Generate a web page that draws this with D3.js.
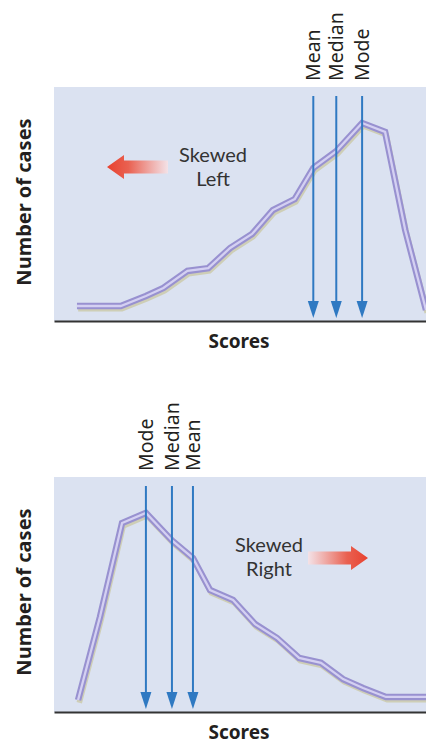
<!DOCTYPE html>
<html>
<head>
<meta charset="utf-8">
<script src="https://cdn.jsdelivr.net/npm/d3@7"></script>
<style>
  html, body { margin: 0; padding: 0; background: #ffffff; }
  svg { display: block; }
</style>
</head>
<body>
<svg id="chart" width="426" height="744"></svg>
<script>
// ---- Data (scores on a 0-17 scale, counts on a 0-100 scale) ----
const leftScores  = [1.05, 3.05, 4.2, 5.0, 6.1, 7.05, 8.05, 9.05, 10.0, 11.0, 11.85, 12.9, 14.08, 15.13, 16.05, 17.0];
const leftCounts  = [6.4, 6.4, 10.7, 14.1, 21.4, 22.6, 31.2, 37.2, 47.4, 52.1, 65.4, 72.6, 84.6, 80.8, 38.9, 4.7];
const leftStatNames  = ["Mean", "Median", "Mode"];
const leftStatScores = [11.85, 12.9, 14.08];

const rightScores = [1.1, 2.1, 3.11, 4.2, 5.39, 6.35, 7.13, 8.18, 9.19, 10.19, 11.2, 12.2, 13.21, 14.12, 15.17, 17.0];
const rightCounts = [5.1, 40.4, 80.4, 84.7, 73.0, 65.5, 51.9, 47.7, 37.4, 31.5, 23.0, 20.9, 14.0, 10.2, 6.4, 6.4];
const rightStatNames  = ["Mode", "Median", "Mean"];
const rightStatScores = [4.2, 5.39, 6.35];

const panelTitles = [["Skewed", "Left"], ["Skewed", "Right"]];
const xAxisLabel = "Scores";
const yAxisLabel = "Number of cases";

// ---- Layout ----
const svg = d3.select("#chart");
const FONT = "'Noto Sans', 'Open Sans', sans-serif";
const FONT2 = "Lato, 'Noto Sans', sans-serif";
const panelLeft = 54, panelRight = 426;

const defs = svg.append("defs");
function gradient(id, dir) {
  const g = defs.append("linearGradient").attr("id", id)
    .attr("x1", dir < 0 ? "0%" : "100%").attr("x2", dir < 0 ? "100%" : "0%")
    .attr("y1", "0%").attr("y2", "0%");
  g.append("stop").attr("offset", "0%").attr("stop-color", "#e8412f").attr("stop-opacity", 1);
  g.append("stop").attr("offset", "35%").attr("stop-color", "#ea5a48").attr("stop-opacity", 0.95);
  g.append("stop").attr("offset", "100%").attr("stop-color", "#f6e2e6").attr("stop-opacity", 0.9);
}
gradient("gradLeft", -1);
gradient("gradRight", 1);

function drawPanel(cfg) {
  const g = svg.append("g");
  const x = d3.scaleLinear().domain([0, 17]).range([panelLeft, panelRight]);
  const y = d3.scaleLinear().domain([0, 100]).range([cfg.bottom, cfg.top]);

  // background
  g.append("rect")
    .attr("x", panelLeft).attr("y", cfg.top)
    .attr("width", panelRight - panelLeft).attr("height", cfg.bottom - cfg.top)
    .attr("fill", "#dbe2f1");

  // x axis line (no ticks)
  const xAxis = d3.axisBottom(x).tickValues([]).tickSizeOuter(0);
  const ax = g.append("g").attr("transform", `translate(0,${cfg.bottom})`).call(xAxis);
  ax.select(".domain").attr("stroke", "#333333").attr("stroke-width", 1.8);

  const pts = cfg.scores.map((s, i) => [s, cfg.counts[i]]);
  const line = d3.line().x(d => x(d[0])).y(d => y(d[1]));

  // curve shadow + double stroke
  g.append("path").datum(pts).attr("d", line)
    .attr("transform", "translate(1.2,2.8)")
    .attr("fill", "none").attr("stroke", "#c9c7a2").attr("stroke-opacity", 0.75)
    .attr("stroke-width", 5.5).attr("stroke-linejoin", "miter");
  g.append("path").datum(pts).attr("d", line)
    .attr("fill", "none").attr("stroke", "#9891d0")
    .attr("stroke-width", 6.5).attr("stroke-linejoin", "miter");
  g.append("path").datum(pts).attr("d", line)
    .attr("fill", "none").attr("stroke", "#d4d0f2")
    .attr("stroke-width", 2.3).attr("stroke-linejoin", "miter");

  // stat arrows
  const headLenV = 17, headHalfW = 5.5;
  cfg.statScores.forEach((s, i) => {
    const xs = x(s);
    const yEnd = cfg.bottom - 3;
    g.append("line")
      .attr("x1", xs).attr("x2", xs)
      .attr("y1", cfg.top + 9).attr("y2", yEnd - headLenV + 2)
      .attr("stroke", "#2f79c2").attr("stroke-width", 2);
    g.append("path")
      .attr("d", `M${xs - headHalfW},${yEnd - headLenV}L${xs + headHalfW},${yEnd - headLenV}L${xs},${yEnd}Z`)
      .attr("fill", "#2f79c2");
    g.append("text")
      .attr("transform", `translate(${xs},${cfg.top - 6}) rotate(-90)`)
      .attr("dy", "0.36em")
      .attr("text-anchor", "start")
      .attr("font-family", FONT).attr("font-size", 19.5)
      .attr("fill", "#231f20")
      .text(cfg.statNames[i]);
  });

  // skew label
  cfg.title.forEach((t, i) => {
    g.append("text")
      .attr("x", cfg.titleX).attr("y", cfg.titleY + i * 24)
      .attr("text-anchor", "middle")
      .attr("font-family", FONT2).attr("font-size", 20)
      .attr("fill", "#333333")
      .text(t);
  });

  // direction arrow
  const ax0 = cfg.arrowX0, ax1 = cfg.arrowX1, ay = cfg.arrowY;
  const dir = cfg.dir;
  const tip = dir < 0 ? ax0 : ax1, tail = dir < 0 ? ax1 : ax0;
  const headLen = 17, shaftH = 6.5, headH = 12;
  const neck = tip - dir * headLen;
  const poly = [
    [tail, ay - shaftH], [neck, ay - shaftH], [neck, ay - headH],
    [tip, ay], [neck, ay + headH], [neck, ay + shaftH], [tail, ay + shaftH]
  ];
  g.append("path")
    .attr("d", "M" + poly.map(p => p.join(",")).join("L") + "Z")
    .attr("fill", dir < 0 ? "url(#gradLeft)" : "url(#gradRight)");

  // axis titles
  g.append("text")
    .attr("x", 239).attr("y", cfg.bottom + 27)
    .attr("text-anchor", "middle")
    .attr("font-family", FONT).attr("font-weight", "bold").attr("font-size", 19)
    .attr("fill", "#231f20")
    .text(xAxisLabel);
  g.append("text")
    .attr("transform", `translate(24,${cfg.yLabelY}) rotate(-90)`)
    .attr("dy", "0.36em")
    .attr("text-anchor", "middle")
    .attr("font-family", FONT).attr("font-weight", "bold").attr("font-size", 20)
    .attr("fill", "#231f20")
    .text(yAxisLabel);
}

drawPanel({
  top: 87, bottom: 321,
  scores: leftScores, counts: leftCounts,
  statScores: leftStatScores, statNames: leftStatNames,
  title: panelTitles[0], titleX: 213, titleY: 162,
  arrowX0: 107, arrowX1: 168, arrowY: 167, dir: -1,
  yLabelY: 202
});
drawPanel({
  top: 477, bottom: 712,
  scores: rightScores, counts: rightCounts,
  statScores: rightStatScores, statNames: rightStatNames,
  title: panelTitles[1], titleX: 269, titleY: 552,
  arrowX0: 308, arrowX1: 368, arrowY: 558, dir: 1,
  yLabelY: 592
});
</script>
</body>
</html>
